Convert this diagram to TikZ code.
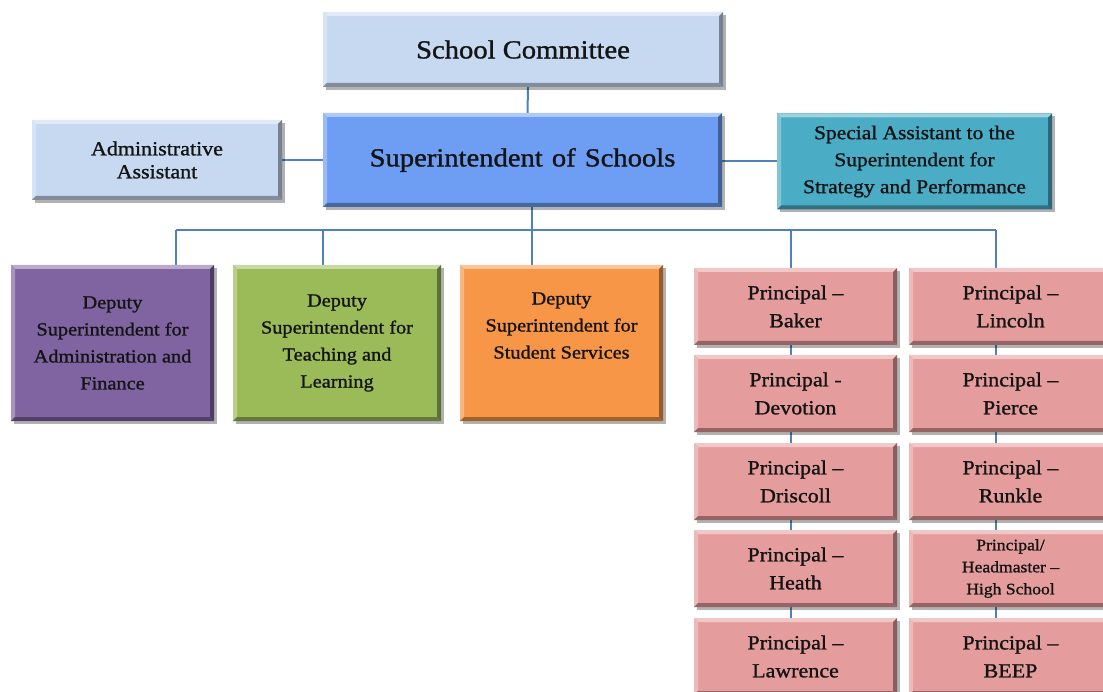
\documentclass[tikz,border=0pt]{standalone}
\usepackage{fontspec}
\setmainfont{Liberation Serif}[FakeStretch=1.1, FakeBold=1.2]
\usetikzlibrary{shadows}
\pgfdeclarelayer{bg}
\pgfsetlayers{bg,main}
\definecolor{lblue}{HTML}{C6D9F1}
\definecolor{supblue}{HTML}{6E9EF4}
\definecolor{teal}{HTML}{4BACC6}
\definecolor{purp}{HTML}{8064A2}
\definecolor{grn}{HTML}{9BBB59}
\definecolor{orng}{HTML}{F79646}
\definecolor{pink}{HTML}{E59C9C}
\definecolor{conncol}{HTML}{4F81BD}
\definecolor{txt}{HTML}{141414}
\tikzset{
  box/.style={rectangle, draw=none, fill=#1, inner sep=0pt, align=center, text=txt,
    general shadow={shadow xshift=3pt, shadow yshift=-3pt, fill=black, opacity=0.3},
    path picture={
      \fill[#1!55!white] (path picture bounding box.north west) -- (path picture bounding box.north east)
        -- ++(-4pt,-4pt) -- ([shift={(4pt,-4pt)}]path picture bounding box.north west) -- cycle;
      \fill[#1!70!white] (path picture bounding box.north west) -- (path picture bounding box.south west)
        -- ++(4pt,4pt) -- ([shift={(4pt,-4pt)}]path picture bounding box.north west) -- cycle;
      \fill[#1!65!black] (path picture bounding box.south west) -- (path picture bounding box.south east)
        -- ++(-4pt,4pt) -- ([shift={(4pt,4pt)}]path picture bounding box.south west) -- cycle;
      \fill[#1!60!black] (path picture bounding box.north east) -- (path picture bounding box.south east)
        -- ++(-4pt,4pt) -- ([shift={(-4pt,-4pt)}]path picture bounding box.north east) -- cycle;
    }},
  conn/.style={draw=conncol, line width=2pt},
  bigtxt/.style={font=\fontsize{26}{30}\selectfont},
  deptxt/.style={font=\fontsize{18.5}{27}\selectfont},
  prtxt/.style={font=\fontsize{20}{28}\selectfont},
  princ/.style={box=pink, minimum width=203pt, minimum height=77pt, prtxt},
  deputy/.style={box=#1, minimum height=156pt, deptxt},
}
\begin{document}
\begin{tikzpicture}[x=1pt,y=1pt]
\useasboundingbox (0,0) rectangle (1103,-692);
\clip (0,0) rectangle (1103,-692);

\node[box=lblue, minimum width=400pt, minimum height=75pt, bigtxt] (sc) at (523,-49.5) {School Committee};
\node[box=supblue, minimum width=399pt, minimum height=94pt, bigtxt] (sup) at (522.5,-160) {Superintendent\hspace{0.35em}of\hspace{0.35em}Schools};
\node[box=lblue, minimum width=250pt, minimum height=80pt, font=\fontsize{20}{23}\selectfont] (adm) at (157,-160) {Administrative\\Assistant};
\node[box=teal, minimum width=275pt, minimum height=96pt, font=\fontsize{19.5}{27}\selectfont] (spec) at (914.5,-161.5) {Special Assistant to the\\Superintendent for\\Strategy and Performance};

\node[deputy=purp, minimum width=203pt] (d1) at (112.5,-343) {Deputy\\Superintendent for\\Administration and\\Finance};
\node[deputy=grn, minimum width=208pt] (d2) at (337,-343) {Deputy\\Superintendent for\\Teaching and\\Learning};
\node[deputy=orng, minimum width=203pt] (d3) at (561.5,-343) {Deputy\\Superintendent for\\Student Services\\\strut};

\node[princ] (baker) at (795.5,-306.5) {Principal –\\Baker};
\node[princ] (devotion) at (795.5,-393.5) {Principal -\\Devotion};
\node[princ] (driscoll) at (795.5,-481.5) {Principal –\\Driscoll};
\node[princ] (heath) at (795.5,-568.5) {Principal –\\Heath};
\node[princ] (lawrence) at (795.5,-656.5) {Principal –\\Lawrence};

\node[princ] (lincoln) at (1010.5,-306.5) {Principal –\\Lincoln};
\node[princ] (pierce) at (1010.5,-393.5) {Principal –\\Pierce};
\node[princ] (runkle) at (1010.5,-481.5) {Principal –\\Runkle};
\node[princ, font=\fontsize{16}{22}\selectfont] (hs) at (1010.5,-568.5) {Principal/\\Headmaster –\\High School};
\node[princ] (beep) at (1010.5,-656.5) {Principal –\\BEEP};

\begin{pgfonlayer}{bg}
  \fill[white] (0,0) rectangle (1103,-692);
  \coordinate (jL) at (176,-230);
  \coordinate (j2) at (323,-230);
  \coordinate (j3) at (532,-230);
  \coordinate (j4) at (791,-230);
  \coordinate (jR) at (996,-230);
  \draw[conn] ([xshift=5pt]sc.south) -- ([xshift=5pt]sup.north);
  \draw[conn] (adm.east) -- (sup.west);
  \draw[conn] ([yshift=-1pt]sup.east) -- ([yshift=-1pt]sup.east -| spec.west);
  \draw[conn] (sup.south -| j3) -- (j3);
  \draw[conn] (jL) -- (jR);
  \draw[conn] (jL) -- (jL |- d1.north);
  \draw[conn] (j2) -- (j2 |- d2.north);
  \draw[conn] (j3) -- (j3 |- d3.north);
  \draw[conn] (j4) -- (j4 |- lawrence.center);
  \draw[conn] (jR) -- (jR |- beep.center);
\end{pgfonlayer}
\end{tikzpicture}
\end{document}
